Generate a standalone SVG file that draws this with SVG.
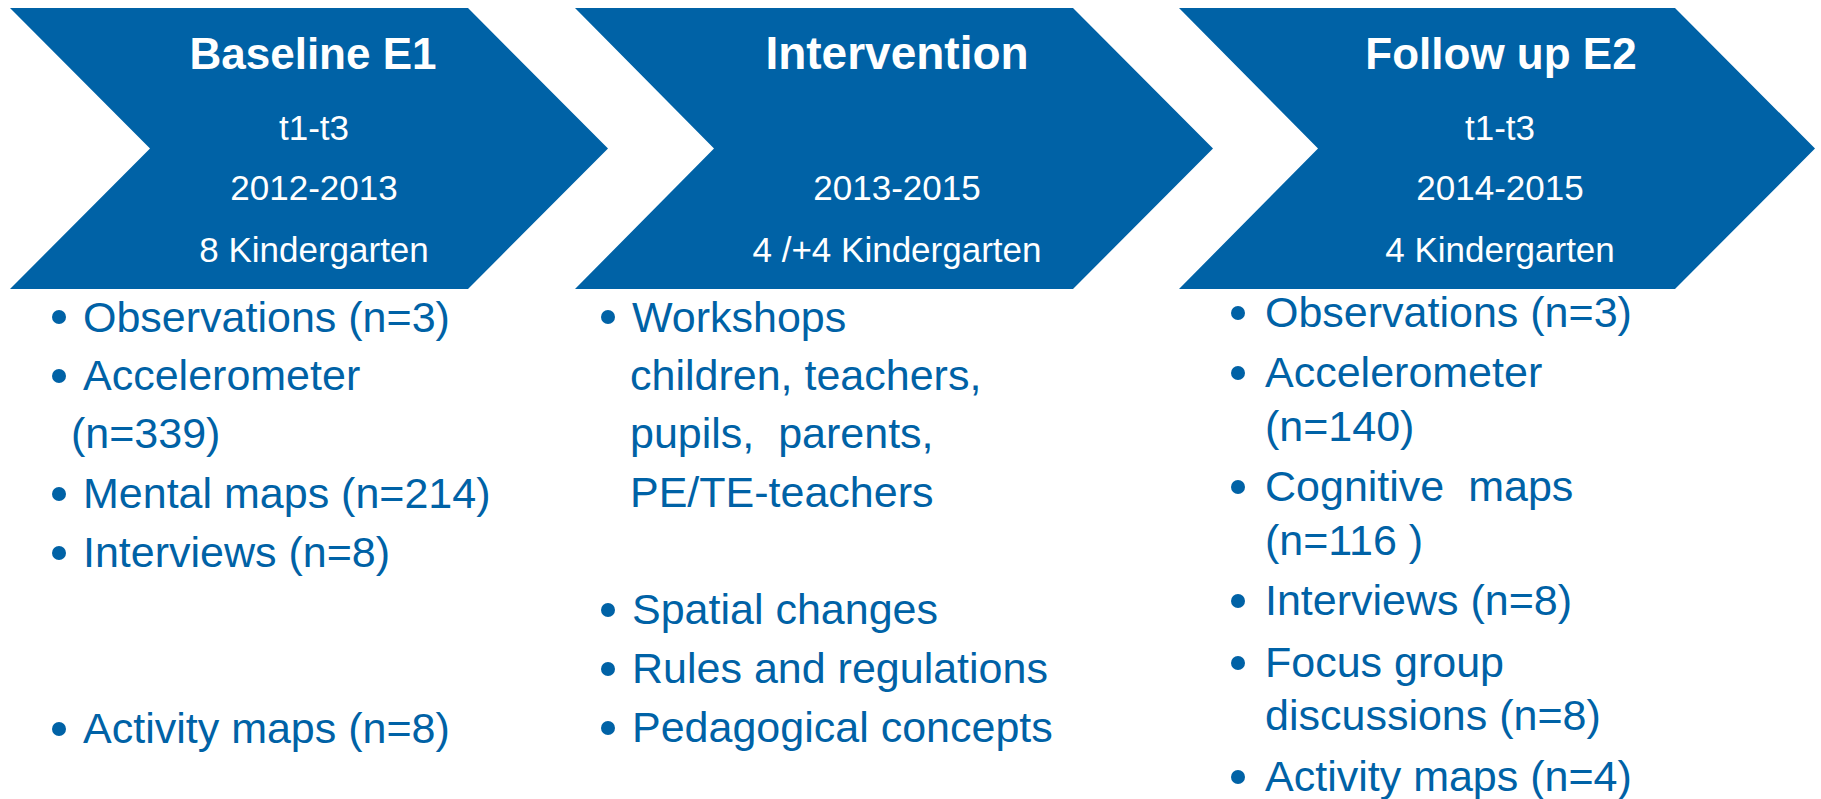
<svg xmlns="http://www.w3.org/2000/svg" width="1821" height="799" viewBox="0 0 1821 799">
<style>
  .chev { fill: #0062A6; }
  .title { font-family: "Liberation Sans", Arial, sans-serif; font-weight: bold; font-size: 44px; fill: #ffffff; text-anchor: middle; }
  .sub { font-family: "Liberation Sans", Arial, sans-serif; font-size: 35px; fill: #ffffff; text-anchor: middle; }
  .item { font-family: "Liberation Sans", Arial, sans-serif; font-size: 43px; fill: #0062A6; white-space: pre; }
  .dot { fill: #0062A6; }
</style>
<rect width="1821" height="799" fill="#ffffff"/>
<g id="connectors"/>
<g id="baseline">
  <polygon class="chev" points="10,8 468,8 608,148.5 468,289 10,289 150,148.5"/>
  <text class="title" x="313" y="69">Baseline E1</text>
  <text class="sub" x="314" y="140">t1-t3</text>
  <text class="sub" x="314" y="200">2012-2013</text>
  <text class="sub" x="314" y="262">8 Kindergarten</text>
</g>
<g id="intervention">
  <polygon class="chev" points="575,8 1073,8 1213,148.5 1073,289 575,289 714,148.5"/>
  <text class="title" x="897" y="69" style="font-size:46px">Intervention</text>
  <text class="sub" x="897" y="200">2013-2015</text>
  <text class="sub" x="897" y="262">4 /+4 Kindergarten</text>
</g>
<g id="followup">
  <polygon class="chev" points="1179,8 1675,8 1815,148.5 1675,289 1179,289 1318,148.5"/>
  <text class="title" x="1501" y="69">Follow up E2</text>
  <text class="sub" x="1500" y="140">t1-t3</text>
  <text class="sub" x="1500" y="200">2014-2015</text>
  <text class="sub" x="1500" y="262">4 Kindergarten</text>
</g>
<g id="baseline-list">
  <circle class="dot" cx="59" cy="317" r="7"/>
  <text class="item" x="83" y="332">Observations (n=3)</text>
  <circle class="dot" cx="59" cy="376" r="7"/>
  <text class="item" x="83" y="390">Accelerometer</text>
  <text class="item" x="71" y="448">(n=339)</text>
  <circle class="dot" cx="59" cy="494" r="7"/>
  <text class="item" x="83" y="508">Mental maps (n=214)</text>
  <circle class="dot" cx="59" cy="553" r="7"/>
  <text class="item" x="83" y="567">Interviews (n=8)</text>
  <circle class="dot" cx="59" cy="729" r="7"/>
  <text class="item" x="83" y="743">Activity maps (n=8)</text>
</g>
<g id="intervention-list">
  <circle class="dot" cx="608" cy="317" r="7"/>
  <text class="item" x="632" y="332">Workshops</text>
  <text class="item" x="630" y="390">children, teachers,</text>
  <text class="item" x="630" y="448">pupils,  parents,</text>
  <text class="item" x="630" y="507">PE/TE-teachers</text>
  <circle class="dot" cx="608" cy="610" r="7"/>
  <text class="item" x="632" y="624">Spatial changes</text>
  <circle class="dot" cx="608" cy="669" r="7"/>
  <text class="item" x="632" y="683">Rules and regulations</text>
  <circle class="dot" cx="608" cy="728" r="7"/>
  <text class="item" x="632" y="742">Pedagogical concepts</text>
</g>
<g id="followup-list">
  <circle class="dot" cx="1238" cy="313" r="7"/>
  <text class="item" x="1265" y="327">Observations (n=3)</text>
  <circle class="dot" cx="1238" cy="373" r="7"/>
  <text class="item" x="1265" y="387">Accelerometer</text>
  <text class="item" x="1265" y="441">(n=140)</text>
  <circle class="dot" cx="1238" cy="487" r="7"/>
  <text class="item" x="1265" y="501">Cognitive  maps</text>
  <text class="item" x="1265" y="555">(n=116 )</text>
  <circle class="dot" cx="1238" cy="601" r="7"/>
  <text class="item" x="1265" y="615">Interviews (n=8)</text>
  <circle class="dot" cx="1238" cy="663" r="7"/>
  <text class="item" x="1265" y="677">Focus group</text>
  <text class="item" x="1265" y="730">discussions (n=8)</text>
  <circle class="dot" cx="1238" cy="777" r="7"/>
  <text class="item" x="1265" y="791">Activity maps (n=4)</text>
</g>
</svg>
